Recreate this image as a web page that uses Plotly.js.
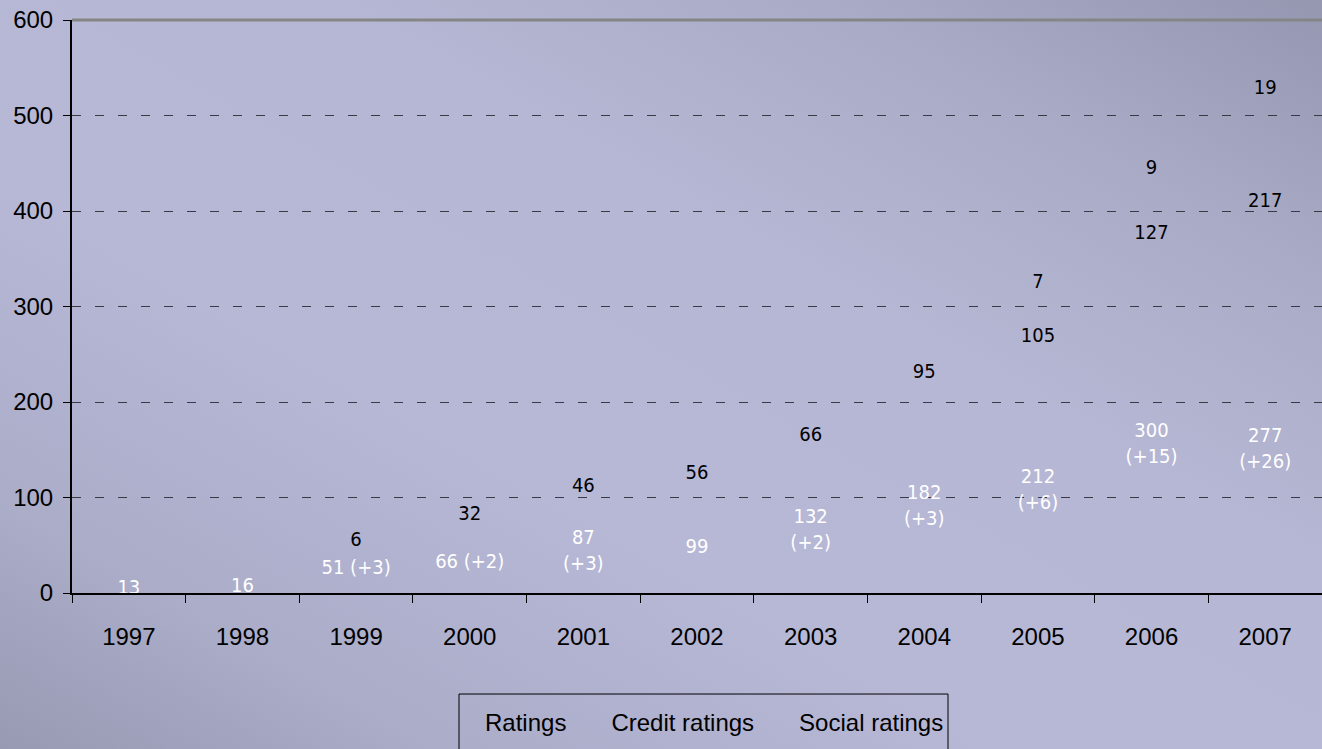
<!DOCTYPE html>
<html>
<head>
<meta charset="utf-8">
<script src="https://cdn.plot.ly/plotly-3.0.1.min.js"></script>
<style>
  html, body { margin: 0; padding: 0; }
  body {
    width: 1322px; height: 749px; overflow: hidden;
    background: linear-gradient(to top right, #989ab3 0%, #aaacc8 16%, #b7b8d6 38%, #b6b7d4 62%, #a9abc6 82%, #9597b1 100%);
  }
  #chart { width: 1322px; height: 749px; }
</style>
</head>
<body>
<div id="chart"></div>
<script>
const years = ['1997','1998','1999','2000','2001','2002','2003','2004','2005','2006','2007'];
const ratings = [13, 16, 54, 68, 90, 99, 134, 185, 218, 315, 303];
const ratingsText = ['13','16','51 (+3)','66 (+2)','87<br>(+3)','99','132<br>(+2)','182<br>(+3)','212<br>(+6)','300<br>(+15)','277<br>(+26)'];
const credit = [0, 0, 6, 32, 46, 56, 66, 95, 105, 127, 217];
const creditText = ['','','6','32','46','56','66','95','105','127','217'];
const social = [0, 0, 0, 0, 0, 0, 0, 0, 7, 9, 19];
const socialText = ['','','','','','','','','7','9','19'];

const labelFont = "DejaVu Sans Condensed, sans-serif";
const axisFont = "Liberation Sans, Arial, sans-serif";

function barTrace(name, vals, txt, color) {
  return {
    type: 'bar', name: name, x: years, y: vals, text: txt,
    textposition: 'inside', insidetextanchor: 'middle', textangle: 0,
    constraintext: 'none', cliponaxis: false,
    textfont: {family: labelFont, size: 20, color: color},
    marker: {color: 'rgba(0,0,0,0)', line: {width: 0}},
    hoverinfo: 'x+y+name'
  };
}

const data = [
  barTrace('Ratings', ratings, ratingsText, '#ffffff'),
  barTrace('Credit ratings', credit, creditText, '#000000'),
  barTrace('Social ratings', social, socialText, '#000000')
];

const layout = {
  width: 1322, height: 749,
  margin: {l: 72, r: 0, t: 20, b: 156, pad: 0},
  paper_bgcolor: 'rgba(0,0,0,0)',
  plot_bgcolor: 'rgba(0,0,0,0)',
  barmode: 'stack',
  bargap: 0.4,
  showlegend: true,
  legend: {
    orientation: 'h', x: 0.5, xanchor: 'center', y: -0.1865, yanchor: 'top',
    bgcolor: 'rgba(0,0,0,0)', borderwidth: 0,
    font: {family: axisFont, size: 24, color: '#000'},
    itemwidth: 30, traceorder: 'normal'
  },
  xaxis: {
    type: 'category', tickson: 'boundaries', ticks: 'outside', ticklen: 8,
    tickcolor: '#000', tickwidth: 1, ticklabelstandoff: 21,
    showline: true, linecolor: '#000', linewidth: 2,
    tickfont: {family: axisFont, size: 24, color: '#000'},
    showgrid: false, fixedrange: true
  },
  yaxis: {
    range: [0, 600], dtick: 100, tick0: 0,
    ticks: 'outside', ticklen: 7, tickcolor: '#000', ticklabelstandoff: 5,
    showline: true, linecolor: '#000', linewidth: 2,
    tickfont: {family: axisFont, size: 24, color: '#000'},
    showgrid: true, gridcolor: '#3a3a46', gridwidth: 1, griddash: '9px,14px',
    zeroline: false, fixedrange: true
  },
  shapes: [
    {type: 'line', xref: 'paper', yref: 'paper', x0: 0, x1: 1, y0: 1, y1: 1,
     line: {color: '#858585', width: 3}},
    {type: 'rect', xref: 'paper', yref: 'paper', x0: 0.3096, x1: 0.7008, y0: -0.1763, y1: -0.30,
     line: {color: '#000', width: 1}, fillcolor: 'rgba(0,0,0,0)'}
  ]
};

Plotly.newPlot('chart', data, layout, {displayModeBar: false, staticPlot: true});
</script>
</body>
</html>
